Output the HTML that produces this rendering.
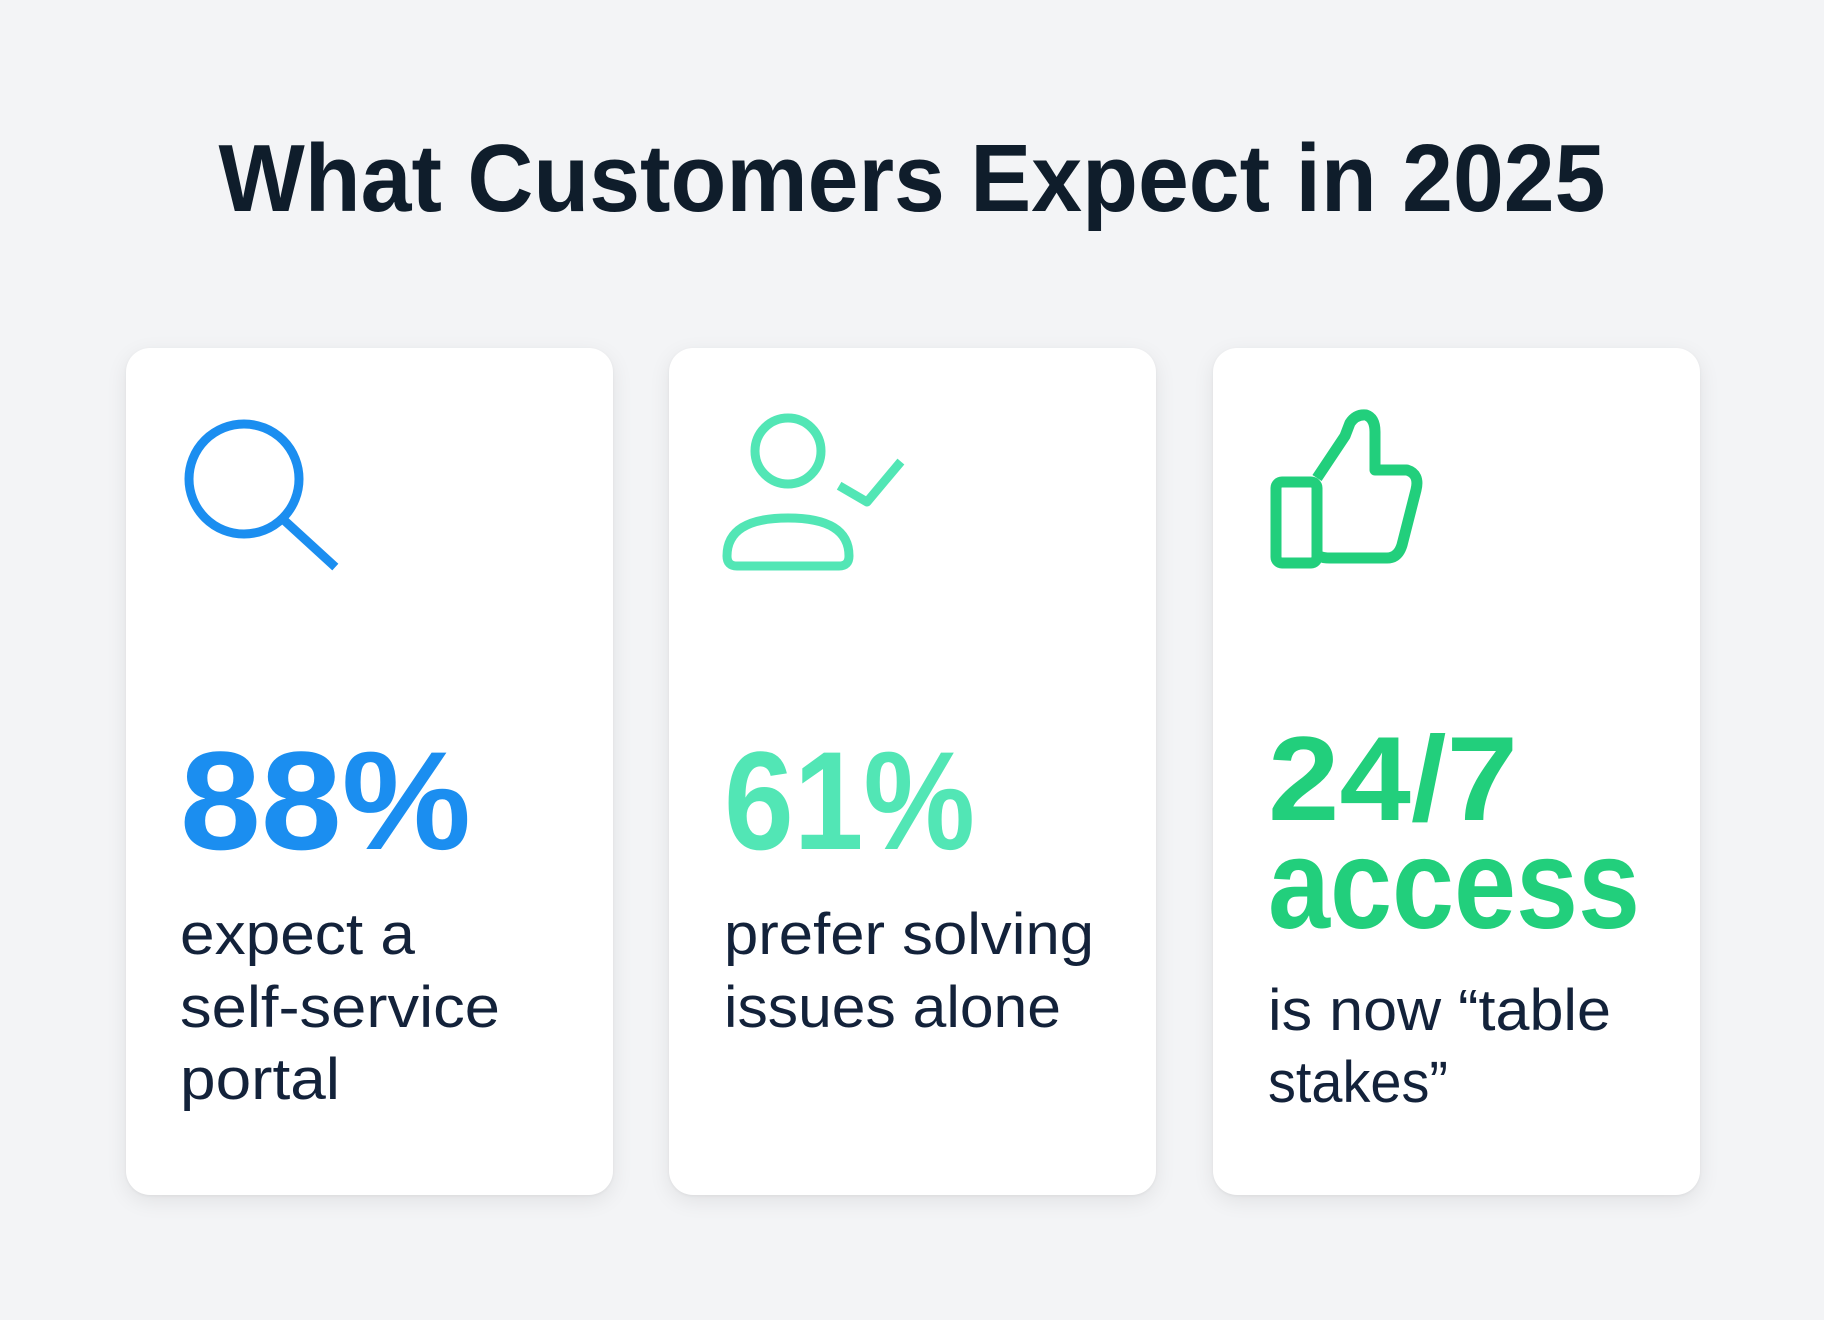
<!DOCTYPE html>
<html><head><meta charset="utf-8"><style>
html,body{margin:0;padding:0;}
body{width:1824px;height:1320px;background:#f3f4f6;position:relative;overflow:hidden;font-family:"Liberation Sans",sans-serif;}
.card{position:absolute;top:348px;width:487px;height:847px;background:#fff;border-radius:24px;box-shadow:0 6px 22px rgba(0,0,0,0.08),0 1px 3px rgba(0,0,0,0.05);}
svg{position:absolute;left:0;top:0;}
</style></head><body>
<div class="card" style="left:126px"></div>
<div class="card" style="left:669px"></div>
<div class="card" style="left:1213px"></div>
<svg width="1824" height="1320" viewBox="0 0 1824 1320" font-family="Liberation Sans, sans-serif">
<text x="912" y="211" text-anchor="middle" font-size="96" font-weight="bold" fill="#0f1d2b" textLength="1387" lengthAdjust="spacingAndGlyphs">What Customers Expect in 2025</text>
<g fill="none" stroke="#1b8ef0" stroke-width="9" stroke-linecap="square">
<circle cx="244" cy="479" r="55"/>
<line x1="286" y1="522" x2="332" y2="564"/>
</g>
<g fill="none" stroke="#52e6b5" stroke-width="9" stroke-linejoin="round" stroke-linecap="square">
<circle cx="788" cy="451" r="33"/>
<path d="M737,566 H839 Q849,566 849,556 Q849,518 788,518 Q727,518 727,556 Q727,566 737,566 Z"/>
<path d="M843,488 L867,502 L898,465"/>
</g>
<g fill="none" stroke="#22cf7c" stroke-width="11" stroke-linejoin="round">
<rect x="1276" y="482" width="41" height="81" rx="6"/>
<path d="M1317,478 L1345,436 L1350,423 Q1356,414 1366,415 Q1375,418 1375,432 L1375,470 L1407,470 Q1420,474 1416,490 L1402,545 Q1398,558 1387,558 L1330,558 Q1318,558 1317,553"/>
</g>
<g font-weight="bold">
<text x="180" y="849" font-size="140" fill="#1b8ef0" textLength="291" lengthAdjust="spacingAndGlyphs">88%</text>
<text x="724" y="849" font-size="140" fill="#52e6b5" textLength="251" lengthAdjust="spacingAndGlyphs">61%</text>
<text x="1268" y="820" font-size="120" fill="#22cf7c" textLength="250" lengthAdjust="spacingAndGlyphs">24/7</text>
<text x="1268" y="928" font-size="128" fill="#22cf7c" textLength="372" lengthAdjust="spacingAndGlyphs">access</text>
</g>
<g font-size="58" fill="#13223a">
<text x="180" y="954" textLength="235" lengthAdjust="spacingAndGlyphs">expect a</text>
<text x="180" y="1027" textLength="320" lengthAdjust="spacingAndGlyphs">self-service</text>
<text x="180" y="1099" textLength="160" lengthAdjust="spacingAndGlyphs">portal</text>
<text x="724" y="954" textLength="370" lengthAdjust="spacingAndGlyphs">prefer solving</text>
<text x="724" y="1027" textLength="337" lengthAdjust="spacingAndGlyphs">issues alone</text>
<text x="1268" y="1030" textLength="343" lengthAdjust="spacingAndGlyphs">is now “table</text>
<text x="1268" y="1102" textLength="180" lengthAdjust="spacingAndGlyphs">stakes”</text>
</g>
</svg>
</body></html>
